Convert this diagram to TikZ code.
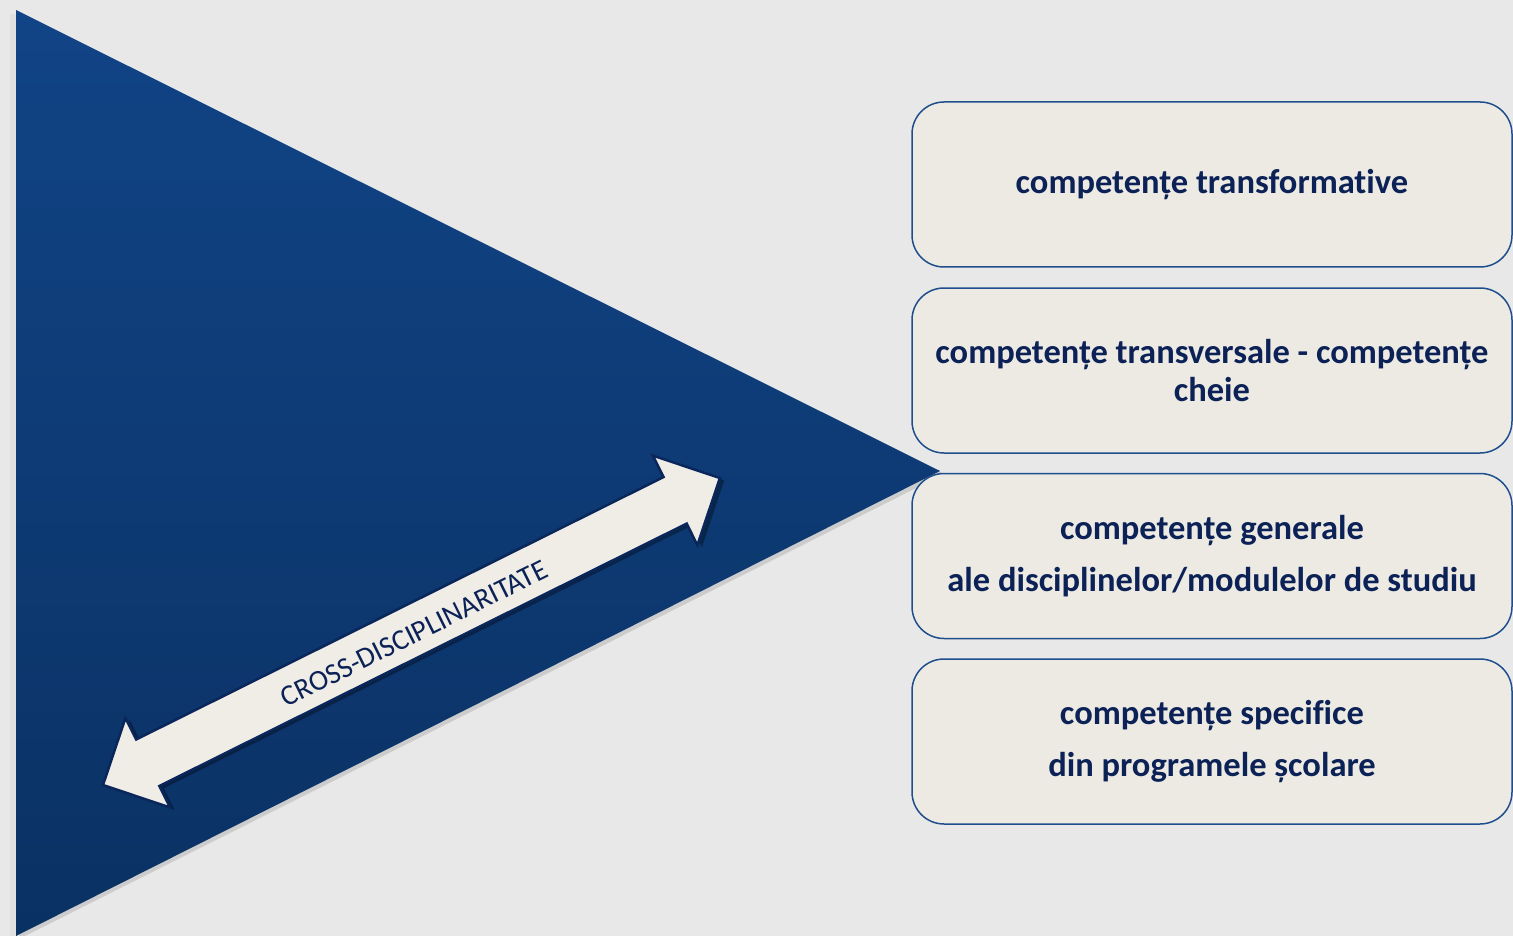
\documentclass[tikz,border=0pt]{standalone}
\usepackage{fontspec}
\setmainfont{Carlito}[Ligatures=CommonOff]
\usetikzlibrary{shadows}
\definecolor{bg}{RGB}{232,232,232}
\definecolor{tritop}{RGB}{17,68,134}
\definecolor{tribot}{RGB}{10,49,99}
\definecolor{boxfill}{RGB}{236,234,227}
\definecolor{boxline}{RGB}{31,78,140}
\definecolor{navy}{RGB}{12,34,87}
\definecolor{arrowfill}{RGB}{239,237,230}
\definecolor{arrowline}{RGB}{10,38,90}
\tikzset{
  compbox/.style={draw=boxline, line width=1.5pt, fill=boxfill, rounded corners=32pt,
    minimum width=600pt, minimum height=165pt, inner sep=0pt, text=navy,
    align=center, font=\fontsize{34.5}{40}\selectfont\bfseries},
}
\begin{document}
\begin{tikzpicture}[x=1pt,y=-1pt]
\useasboundingbox (0,0) rectangle (1513,936);
\fill[bg] (0,0) rectangle (1513,936);
% left shadow strip
\fill[black!12] (10,14) rectangle (16,936);
% triangle shadow
\fill[black!30, opacity=0.5] (19,13) -- (944,474) -- (19,939) -- cycle;
% triangle
\shade[top color=tritop, bottom color=tribot] (16,10) -- (940,471) -- (16,936) -- cycle;
% boxes
\node[compbox] (b1) at (1212,184.5) {\raisebox{-2pt}{competențe transformative}};
\node[compbox] (b2) at (1212,370.5) {competențe transversale - competențe\\[-2pt]cheie};
\node[compbox] (b3) at (1212,556) {competențe generale\\[12pt]ale disciplinelor/modulelor de studiu};
\node[compbox] (b4) at (1212,741.5) {competențe specifice\\[12pt]din programele școlare};
% double arrow
\begin{scope}[shift={(103,785)}, x={(0.8953pt,0.4455pt)}, y={(-0.4455pt,0.8953pt)}]
  \fill[black, opacity=0.35, shift={(3,-4)}]
    (0,0) -- (50,50) -- (50,26) -- (639,26) -- (639,50) -- (689,0) -- (639,-50) -- (639,-26) -- (50,-26) -- (50,-50) -- cycle;
  \draw[draw=arrowline, line width=2.5pt, fill=arrowfill, line join=miter]
    (0,0) -- (50,50) -- (50,26) -- (639,26) -- (639,50) -- (689,0) -- (639,-50) -- (639,-26) -- (50,-26) -- (50,-50) -- cycle;
  \node[rotate=26.45, text=navy, font=\fontsize{29}{29}\selectfont, inner sep=0pt] (lbl) at (346,-3) {CROSS-DISCIPLINARITATE};
\end{scope}
\end{tikzpicture}
\end{document}
